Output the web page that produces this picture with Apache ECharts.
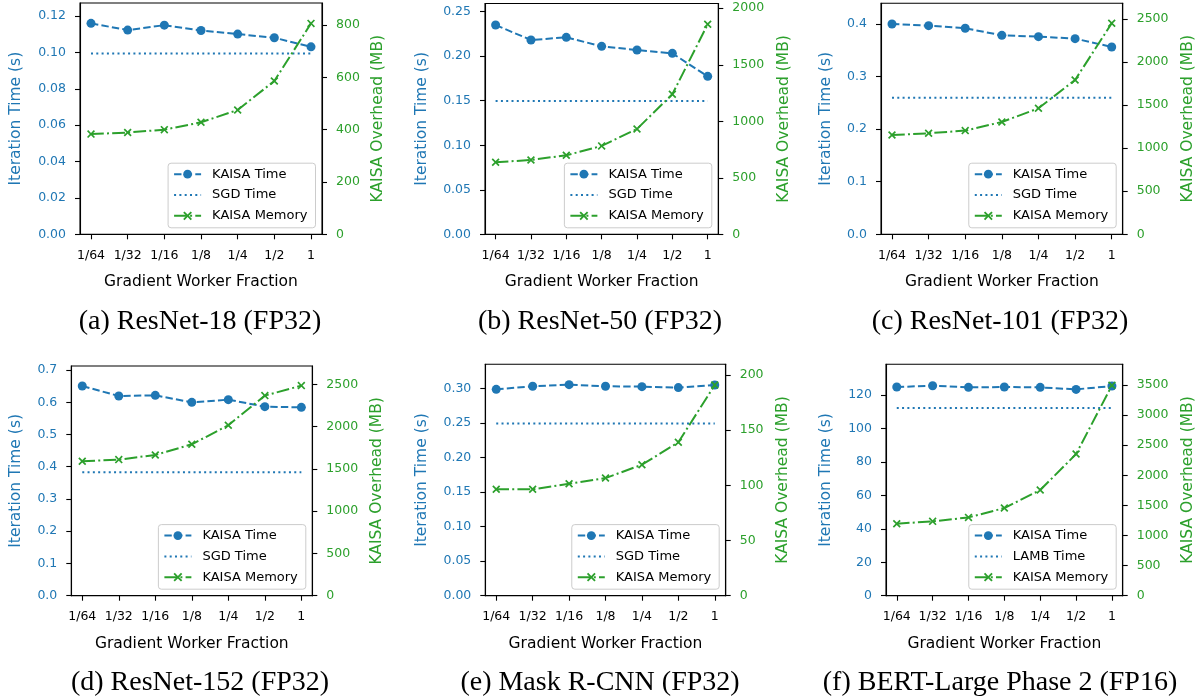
<!DOCTYPE html>
<html>
<head>
<meta charset="utf-8">
<title>KAISA gradient worker fraction</title>
<script src="https://cdn.jsdelivr.net/npm/echarts@6/dist/echarts.min.js"></script>
<style>
html, body { margin: 0; padding: 0; background: #fff; }
#chart { width: 1201px; height: 698px; }
</style>
</head>
<body>
<div id="chart"></div>
<script>
// x categories
var fractions = ['1/64', '1/32', '1/16', '1/8', '1/4', '1/2', '1'];

// one set per panel
var resnet18Time = [0.1160, 0.1123, 0.1150, 0.1121, 0.1101, 0.1081, 0.1031];
var resnet18Sgd = 0.0994;
var resnet18Mem = [383, 389, 400, 428, 475, 586, 806];

var resnet50Time = [0.2350, 0.2182, 0.2212, 0.2111, 0.2070, 0.2032, 0.1774];
var resnet50Sgd = 0.1497;
var resnet50Mem = [637, 658, 699, 782, 932, 1239, 1858];

var resnet101Time = [0.4000, 0.3968, 0.3918, 0.3784, 0.3759, 0.3721, 0.3563];
var resnet101Sgd = 0.2599;
var resnet101Mem = [1153, 1173, 1204, 1304, 1463, 1792, 2450];

var resnet152Time = [0.6505, 0.6194, 0.6215, 0.5998, 0.6081, 0.5863, 0.5843];
var resnet152Sgd = 0.3826;
var resnet152Mem = [1589, 1609, 1664, 1790, 2015, 2366, 2484];

var maskrcnnTime = [0.2985, 0.3029, 0.3053, 0.3029, 0.3024, 0.3010, 0.3048];
var maskrcnnSgd = 0.2491;
var maskrcnnMem = [96.4, 96.4, 101.5, 106.6, 118.7, 139.0, 190.9];

var bertTime = [124.8, 125.6, 124.6, 124.8, 124.6, 123.4, 125.4];
var bertLamb = 112.2;
var bertMem = [1196, 1235, 1301, 1456, 1755, 2353, 3494];

// tick labels
var xTicks = [0, 1, 2, 3, 4, 5, 6];
var resnet18TimeTicks = [0, 0.02, 0.04, 0.06, 0.08, 0.10, 0.12];
var resnet18MemTicks = [0, 200, 400, 600, 800];
var resnet50TimeTicks = [0, 0.05, 0.10, 0.15, 0.20, 0.25];
var resnet50MemTicks = [0, 500, 1000, 1500, 2000];
var resnet101TimeTicks = [0, 0.1, 0.2, 0.3, 0.4];
var resnet101MemTicks = [0, 500, 1000, 1500, 2000, 2500];
var resnet152TimeTicks = [0, 0.1, 0.2, 0.3, 0.4, 0.5, 0.6, 0.7];
var resnet152MemTicks = [0, 500, 1000, 1500, 2000, 2500];
var maskrcnnTimeTicks = [0, 0.05, 0.10, 0.15, 0.20, 0.25, 0.30];
var maskrcnnMemTicks = [0, 50, 100, 150, 200];
var bertTimeTicks = [0, 20, 40, 60, 80, 100, 120];
var bertMemTicks = [0, 500, 1000, 1500, 2000, 2500, 3000, 3500];

var captions = [
	'(a) ResNet-18 (FP32)', '(b) ResNet-50 (FP32)', '(c) ResNet-101 (FP32)',
	'(d) ResNet-152 (FP32)', '(e) Mask R-CNN (FP32)', '(f) BERT-Large Phase 2 (FP16)'
];

var BLUE = '#1f77b4';
var GREEN = '#2ca02c';
var FONT = 'DejaVu Sans';
var X_MARK = 'path://M0,1.5L1.5,0L5,3.5L8.5,0L10,1.5L6.5,5L10,8.5L8.5,10L5,6.5L1.5,10L0,8.5L3.5,5Z';

// box = [left, top, right, bottom] of each plot frame
var panels = [
	{ box: [80, 3, 322, 234.3], time: resnet18Time, base: resnet18Sgd, baseName: 'SGD Time', mem: resnet18Mem,
		tMax: 0.1272, tTicks: resnet18TimeTicks, tDec: 2, mMax: 884, mTicks: resnet18MemTicks, gapL: 56, gapR: 48 },
	{ box: [485, 3.5, 718.3, 234.3], time: resnet50Time, base: resnet50Sgd, baseName: 'SGD Time', mem: resnet50Mem,
		tMax: 0.2592, tTicks: resnet50TimeTicks, tDec: 2, mMax: 2042, mTicks: resnet50MemTicks, gapL: 55, gapR: 58 },
	{ box: [881, 3.3, 1122.7, 234.3], time: resnet101Time, base: resnet101Sgd, baseName: 'SGD Time', mem: resnet101Mem,
		tMax: 0.4393, tTicks: resnet101TimeTicks, tDec: 1, mMax: 2682, mTicks: resnet101MemTicks, gapL: 47, gapR: 57 },
	{ box: [71.3, 366, 312.3, 595.7], time: resnet152Time, base: resnet152Sgd, baseName: 'SGD Time', mem: resnet152Mem,
		tMax: 0.7125, tTicks: resnet152TimeTicks, tDec: 1, mMax: 2716, mTicks: resnet152MemTicks, gapL: 47, gapR: 57 },
	{ box: [485.3, 364.3, 725.7, 595.7], time: maskrcnnTime, base: maskrcnnSgd, baseName: 'SGD Time', mem: maskrcnnMem,
		tMax: 0.3347, tTicks: maskrcnnTimeTicks, tDec: 2, mMax: 209.7, mTicks: maskrcnnMemTicks, gapL: 55, gapR: 49 },
	{ box: [886, 364.3, 1122.7, 595.7], time: bertTime, base: bertLamb, baseName: 'LAMB Time', mem: bertMem,
		tMax: 138.4, tTicks: bertTimeTicks, tDec: 0, mMax: 3844, mTicks: bertMemTicks, gapL: 52, gapR: 57 }
];

var W = 1201, H = 698;
var grids = [], xAxes = [], yAxes = [], series = [], legends = [], graphics = [];

function axisBase(i) {
	return {
		type: 'value', gridIndex: i,
		nameLocation: 'middle',
		axisLine: { show: true, onZero: false, lineStyle: { color: '#000', width: 1.1 } },
		splitLine: { show: false }
	};
}

panels.forEach(function (p, i) {
	var b = p.box;
	grids.push({
		left: b[0], top: b[1], width: b[2] - b[0], height: b[3] - b[1],
		show: true, borderColor: '#000', borderWidth: 1.1, backgroundColor: 'transparent'
	});

	var xa = axisBase(i);
	xa.min = -0.3; xa.max = 6.3;
	xa.name = 'Gradient Worker Fraction'; xa.nameGap = 40;
	xa.nameTextStyle = { fontFamily: FONT, fontSize: 15.5, color: '#000' };
	xa.axisTick = { show: true, length: 5, lineStyle: { color: '#000', width: 1.1 }, customValues: xTicks };
	xa.axisLabel = {
		fontFamily: FONT, fontSize: 12.5, color: '#000', margin: 15, customValues: xTicks,
		formatter: function (v) { return fractions[Math.round(v)]; }
	};
	xAxes.push(xa);

	var yl = axisBase(i);
	yl.position = 'left'; yl.min = 0; yl.max = p.tMax;
	yl.name = 'Iteration Time (s)'; yl.nameGap = p.gapL; yl.nameRotate = 90;
	yl.nameTextStyle = { fontFamily: FONT, fontSize: 15.5, color: BLUE };
	yl.axisTick = { show: true, length: 5, lineStyle: { color: '#000', width: 1.1 }, customValues: p.tTicks };
	yl.axisLabel = {
		fontFamily: FONT, fontSize: 12.5, color: BLUE, margin: 14, customValues: p.tTicks,
		formatter: (function (d) { return function (v) { return v.toFixed(d); }; })(p.tDec)
	};
	yAxes.push(yl);

	var yr = axisBase(i);
	yr.position = 'right'; yr.min = 0; yr.max = p.mMax;
	yr.name = 'KAISA Overhead (MB)'; yr.nameGap = p.gapR; yr.nameRotate = 90;
	yr.nameTextStyle = { fontFamily: FONT, fontSize: 15.5, color: GREEN };
	yr.axisTick = { show: true, length: 5, lineStyle: { color: '#000', width: 1.1 }, customValues: p.mTicks };
	yr.axisLabel = {
		fontFamily: FONT, fontSize: 12.5, color: GREEN, margin: 14, customValues: p.mTicks,
		formatter: function (v) { return String(Math.round(v)); }
	};
	yAxes.push(yr);

	series.push({
		name: 'KAISA Time', type: 'line', xAxisIndex: i, yAxisIndex: 2 * i,
		data: p.time.map(function (v, k) { return [k, v]; }),
		symbol: 'circle', symbolSize: 9, color: BLUE,
		itemStyle: { color: BLUE, borderWidth: 0 },
		lineStyle: { color: BLUE, width: 2, type: [7.4, 3.2] }, z: 2
	});
	series.push({
		name: p.baseName, type: 'line', xAxisIndex: i, yAxisIndex: 2 * i,
		data: [[0, p.base], [6, p.base]],
		symbol: 'none', color: BLUE,
		lineStyle: { color: BLUE, width: 2, type: [2, 3.3] }, z: 2
	});
	series.push({
		name: 'KAISA Memory', type: 'line', xAxisIndex: i, yAxisIndex: 2 * i + 1,
		data: p.mem.map(function (v, k) { return [k, v]; }),
		symbol: X_MARK, symbolSize: 8, color: GREEN,
		itemStyle: { color: GREEN, borderWidth: 0 },
		lineStyle: { color: GREEN, width: 2, type: [12.8, 3.2, 2, 3.2] }, z: 3
	});

	legends.push({
		// the baseline has no marker, so its legend circle is made invisible
		data: ['KAISA Time', { name: p.baseName, itemStyle: { opacity: 0 } }, 'KAISA Memory'],
		orient: 'vertical', right: W - b[2] + 6.5, bottom: H - b[3] + 6.5,
		itemWidth: 27, itemHeight: 11, itemGap: 6.8,
		padding: [4, 8, 5, 5],
		backgroundColor: 'rgba(255,255,255,0.8)', borderColor: '#cccccc', borderWidth: 1, borderRadius: 3,
		textStyle: { fontFamily: FONT, fontSize: 13, color: '#000', lineHeight: 14, padding: [0, 0, 0, 6] },
		selectedMode: false, z: 10
	});

	graphics.push({
		type: 'text', x: [200, 600, 1000][i % 3], y: i < 3 ? 322 : 683,
		style: {
			text: captions[i], fill: '#000', font: '28px "Liberation Serif"',
			textAlign: 'center', textVerticalAlign: 'middle'
		}
	});
});

var chart = echarts.init(document.getElementById('chart'), null, { renderer: 'canvas' });
chart.setOption({
	animation: false,
	backgroundColor: '#fff',
	grid: grids,
	xAxis: xAxes,
	yAxis: yAxes,
	legend: legends,
	series: series,
	graphic: graphics
});
</script>
</body>
</html>
